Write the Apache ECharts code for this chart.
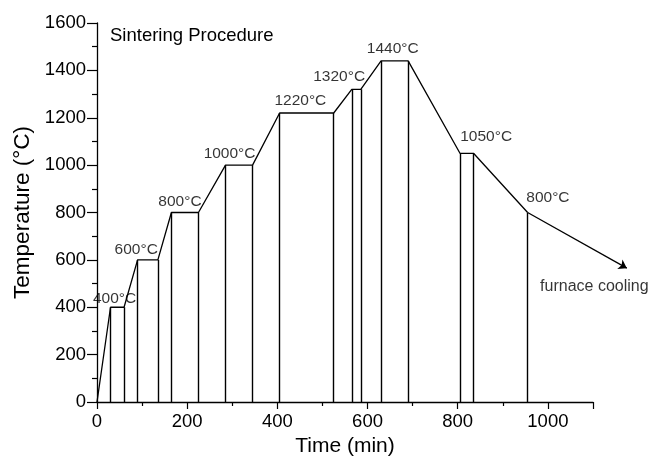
<!DOCTYPE html>
<html>
<head>
<meta charset="utf-8">
<script src="https://cdn.jsdelivr.net/npm/echarts@6/dist/echarts.min.js"></script>
<style>
  html, body { margin: 0; padding: 0; background: #fff; }
  #main { width: 651px; height: 457px; }
</style>
</head>
<body>
<div id="main"></div>
<script>
// 烧结工艺曲线：时间(min) / 温度(°C)
var times = [0, 30, 60, 90, 135, 165, 225, 285, 345, 405, 525, 565, 585, 630, 690, 805, 835, 955];
var temps = [0, 400, 400, 600, 600, 800, 800, 1000, 1000, 1220, 1220, 1320, 1320, 1440, 1440, 1050, 1050, 800];
// 每段起止的竖线
var holdTimes = [30, 60, 90, 135, 165, 225, 285, 345, 405, 525, 565, 585, 630, 690, 805, 835, 955];
var holdTemps = [400, 400, 600, 600, 800, 800, 1000, 1000, 1220, 1220, 1320, 1320, 1440, 1440, 1050, 1050, 800];
// 炉冷箭头：起点 -> 终点
var coolTimes = [955, 1175];
var coolTemps = [800, 565];
// 温度标注
var labelTexts = ['400°C', '600°C', '800°C', '1000°C', '1220°C', '1320°C', '1440°C', '1050°C', '800°C', 'furnace cooling'];
var labelX = [39, 87, 184, 294, 451, 537, 656, 863, 1000, 1103];
var labelY = [435, 642, 846, 1047, 1270, 1373, 1492, 1120, 864, 487];
var xTicks = [0, 1100, 200];
var yTicks = [0, 1600, 200];

var font = 'Liberation Sans, Arial, sans-serif';

var profileData = times.map(function (t, i) { return [t, temps[i]]; });
var vLines = holdTimes.map(function (t, i) {
    return [{ coord: [t, 0] }, { coord: [t, holdTemps[i]] }];
});
var coolCoords = coolTimes.map(function (t, i) { return [t, coolTemps[i]]; });
var labelData = labelTexts.map(function (s, i) {
    var d = { value: [labelX[i], labelY[i]], name: s };
    if (i === labelTexts.length - 1) d.label = { fontSize: 16 };
    return d;
});

var chart = echarts.init(document.getElementById('main'));
var option = {
    animation: false,
    backgroundColor: '#fff',
    title: {
        text: 'Sintering Procedure',
        left: 110, top: 26, padding: 0,
        textStyle: { fontFamily: font, fontSize: 18.5, fontWeight: 'normal', color: '#000' }
    },
    grid: { left: 97, right: 58, top: 23, bottom: 55, containLabel: false, outerBoundsMode: 'none' },
    xAxis: {
        type: 'value',
        min: xTicks[0], max: xTicks[1], interval: xTicks[2],
        name: 'Time (min)',
        nameLocation: 'middle', nameGap: 32,
        nameTextStyle: { fontFamily: font, fontSize: 21, color: '#000' },
        axisLine: { lineStyle: { color: '#000', width: 1.3 } },
        axisTick: { length: 7, lineStyle: { color: '#000', width: 1.2 } },
        minorTick: { show: true, splitNumber: 2, length: 4, lineStyle: { color: '#000', width: 1.2 } },
        axisLabel: {
            fontFamily: font, fontSize: 18.5, color: '#000', margin: 10, showMaxLabel: false,
            formatter: function (v) { return String(v); }
        },
        splitLine: { show: false }
    },
    yAxis: {
        type: 'value',
        min: yTicks[0], max: yTicks[1], interval: yTicks[2],
        name: 'Temperature (°C)',
        nameLocation: 'middle', nameGap: 63,
        nameTextStyle: { fontFamily: font, fontSize: 22.5, color: '#000' },
        axisLine: { show: true, lineStyle: { color: '#000', width: 1.3 } },
        axisTick: { show: true, length: 10, lineStyle: { color: '#000', width: 1.2 } },
        minorTick: { show: true, splitNumber: 2, length: 5, lineStyle: { color: '#000', width: 1.2 } },
        axisLabel: {
            fontFamily: font, fontSize: 18.5, color: '#000', margin: 11,
            formatter: function (v) { return String(v); }
        },
        splitLine: { show: false }
    },
    series: [
        {
            type: 'line',
            data: profileData,
            clip: false,
            showSymbol: false,
            symbol: 'none',
            lineStyle: { color: '#000', width: 1.3 },
            markLine: {
                silent: true,
                animation: false,
                label: { show: false },
                symbol: ['none', 'none'],
                lineStyle: { color: '#000', width: 1.4, type: 'solid' },
                data: vLines
            }
        },
        {
            type: 'lines',
            coordinateSystem: 'cartesian2d',
            clip: false,
            symbol: ['none', 'arrow'],
            symbolSize: 8,
            lineStyle: { color: '#000', width: 1.3, opacity: 1 },
            data: [{ coords: coolCoords }]
        },
        {
            type: 'scatter',
            data: labelData,
            symbolSize: 1,
            clip: false,
            itemStyle: { color: 'rgba(0,0,0,0)' },
            label: {
                show: true,
                position: 'inside',
                formatter: '{b}',
                fontFamily: font,
                fontSize: 15.5,
                color: '#000'
            }
        }
    ]
};
chart.setOption(option);
</script>
</body>
</html>
